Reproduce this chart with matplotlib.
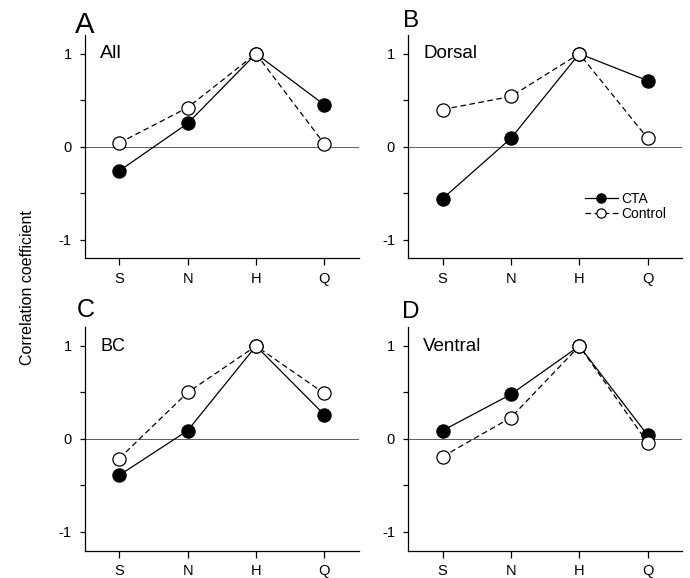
import matplotlib
matplotlib.use("Agg")
import matplotlib.pyplot as plt
from matplotlib.ticker import FixedLocator

plt.rcParams['font.family'] = ['Liberation Sans', 'DejaVu Sans']

categories = ["S", "N", "H", "Q"]
panel_letters = ["A", "B", "C", "D"]
panel_names = ["All", "Dorsal", "BC", "Ventral"]

cta_all = [-0.26, 0.25, 1.0, 0.45]
ctl_all = [0.04, 0.42, 1.0, 0.03]
cta_dorsal = [-0.56, 0.09, 1.0, 0.71]
ctl_dorsal = [0.40, 0.54, 1.0, 0.09]
cta_bc = [-0.39, 0.09, 1.0, 0.26]
ctl_bc = [-0.21, 0.50, 1.0, 0.49]
cta_ventral = [0.09, 0.48, 1.0, 0.04]
ctl_ventral = [-0.19, 0.23, 1.0, -0.04]

cta_series = [cta_all, cta_dorsal, cta_bc, cta_ventral]
ctl_series = [ctl_all, ctl_dorsal, ctl_bc, ctl_ventral]

W, H = 690, 578
fig = plt.figure(figsize=(6.9, 5.78), dpi=100)

# axes rectangles in pixels: left, top
rects = [(85, 35.1), (408.3, 35.1), (85, 327.4), (408.3, 327.4)]
aw, ah = 273.6, 223.2
letter_pos = [(75, 33.3, 21), (402.7, 27.3, 17.5), (76.7, 316.7, 18), (401.7, 318.3, 17.5)]
name_sizes = [14, 13.5, 13, 13.5]

x = list(range(len(categories)))
for i in range(4):
    l, t = rects[i]
    ax = fig.add_axes([l / W, 1 - (t + ah) / H, aw / W, ah / H])
    ax.set_xlim(-0.5, 3.5)
    ax.set_ylim(-1.2, 1.2)
    for s in ["top", "right"]:
        ax.spines[s].set_visible(False)
    for s in ["left", "bottom"]:
        ax.spines[s].set_linewidth(0.9)
    ax.axhline(0, color="#444444", lw=0.6, zorder=1)
    ax.plot(x, cta_series[i], color="black", lw=0.9, marker="o", ms=9.5,
            mfc="black", mec="black", mew=0.9, label="CTA", zorder=3)
    ax.plot(x, ctl_series[i], color="black", lw=0.9, dashes=(4.5, 2.8), marker="o", ms=9.5,
            mfc="white", mec="black", mew=0.9, label="Control", zorder=4)
    ax.set_xticks(x)
    ax.set_xticklabels(categories)
    ax.set_yticks([-1, 0, 1])
    ax.set_yticklabels(["-1", "0", "1"])
    ax.yaxis.set_minor_locator(FixedLocator([-0.5, 0.5]))
    ax.tick_params(axis="x", direction="out", length=5, width=0.9, pad=5, labelsize=10.5)
    ax.tick_params(axis="y", which="both", direction="out", length=3.5, width=0.9, pad=6, labelsize=10.5)
    ax.xaxis.set_minor_locator(FixedLocator([]))
    ax.text(-0.28, 0.95, panel_names[i], fontsize=name_sizes[i], ha="left", va="baseline")
    lx, ly, ls = letter_pos[i]
    fig.text(lx / W, 1 - ly / H, panel_letters[i], fontsize=ls, ha="left", va="baseline")
    if i == 1:
        ax.legend(loc="center left", bbox_to_anchor=(0.645, 0.232), frameon=False,
                  fontsize=10, handlelength=2.4, handletextpad=0.25, labelspacing=0.1,
                  borderpad=0, borderaxespad=0, markerscale=0.7)

fig.text(27 / W, 0.502, "Correlation coefficient", rotation=90, fontsize=11.5,
         ha="center", va="center")

fig.savefig("out.png", dpi=100)
